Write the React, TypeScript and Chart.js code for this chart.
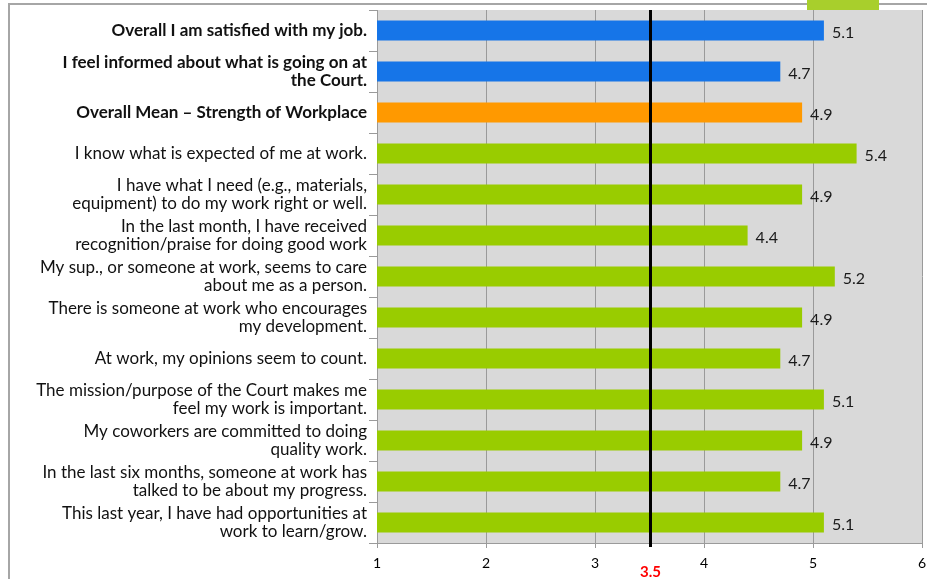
import React, { useEffect, useRef } from "react";
import { Chart, registerables } from "chart.js";

Chart.register(...registerables);

const categories: (string | string[])[] = [
  "Overall I am satisfied with my job.",
  ["I feel informed about what is going on at", "the Court."],
  "Overall Mean \u2013 Strength of Workplace",
  "I know what is expected of me at work.",
  ["I have what I need (e.g., materials,", "equipment) to do my work right or well."],
  ["In the last month, I have received", "recognition/praise for doing good work"],
  ["My sup., or someone at work, seems to care", "about me as a person."],
  ["There is someone at work who encourages", "my development."],
  "At work, my opinions seem to count.",
  ["The mission/purpose of the Court makes me", "feel my work is important."],
  ["My coworkers are committed to doing", "quality work."],
  ["In the last six months, someone at work has", "talked to be about my progress."],
  ["This last year, I have had opportunities at", "work to learn/grow."],
];

const values: number[] = [5.1, 4.7, 4.9, 5.4, 4.9, 4.4, 5.2, 4.9, 4.7, 5.1, 4.9, 4.7, 5.1];
const boldRows: number[] = [0, 1, 2];
const barColors: string[] = [
  "#1675e8", "#1675e8", "#ff9900",
  "#99cc00", "#99cc00", "#99cc00", "#99cc00", "#99cc00",
  "#99cc00", "#99cc00", "#99cc00", "#99cc00", "#99cc00",
];
const xMin = 1;
const xMax = 6;
const referenceValue = 3.5;
const referenceLabel = "3.5";

const FONT = "Lato, 'Open Sans', sans-serif";

export default function App() {
  const ref = useRef<HTMLCanvasElement | null>(null);

  useEffect(() => {
    if (!ref.current) return;

    const decor = {
      id: "decor",
      beforeDraw(chart: any) {
        const { ctx, chartArea } = chart;
        ctx.save();
        ctx.fillStyle = "#d9d9d9";
        ctx.fillRect(chartArea.left, chartArea.top, chartArea.right - chartArea.left, chartArea.bottom - chartArea.top);
        // outer frame
        ctx.strokeStyle = "#a6a6a6";
        ctx.lineWidth = 2;
        ctx.beginPath();
        ctx.moveTo(9, 579);
        ctx.lineTo(9, 4);
        ctx.lineTo(927, 4);
        ctx.stroke();
        ctx.fillStyle = "#a8cf2c";
        ctx.fillRect(807, 0, 72, 10);
        ctx.restore();
      },
      afterDatasetsDraw(chart: any) {
        const { ctx, chartArea } = chart;
        const xs = chart.scales.x;
        const meta = chart.getDatasetMeta(0);
        ctx.save();
        ctx.font = `16px ${FONT}`;
        ctx.fillStyle = "#1a1a1a";
        ctx.textAlign = "left";
        ctx.textBaseline = "middle";
        meta.data.forEach((bar: any, i: number) => {
          ctx.fillText(values[i].toFixed(1), bar.x + 8, bar.y + 2);
        });
        const px = Math.round(xs.getPixelForValue(referenceValue)) + 0.5;
        ctx.strokeStyle = "#000";
        ctx.lineWidth = 3;
        ctx.beginPath();
        ctx.moveTo(px, chartArea.top);
        ctx.lineTo(px, chartArea.bottom + 4);
        ctx.stroke();
        ctx.fillStyle = "#ff0000";
        ctx.font = `bold 15px ${FONT}`;
        ctx.textAlign = "center";
        ctx.textBaseline = "middle";
        ctx.fillText(referenceLabel, px, 572);
        ctx.restore();
      },
    };

    const chart = new Chart(ref.current, {
      type: "bar",
      data: {
        labels: categories as any,
        datasets: [
          {
            data: values,
            backgroundColor: barColors,
            borderWidth: 0,
            categoryPercentage: 1,
            barPercentage: 0.49,
          },
        ],
      },
      options: {
        indexAxis: "y",
        animation: false,
        responsive: false,
        devicePixelRatio: 1,
        layout: { padding: { top: 10, right: 5, left: 0, bottom: 0 } },
        plugins: {
          legend: { display: false },
          tooltip: { enabled: false },
          title: { display: false },
        },
        scales: {
          x: {
            min: xMin,
            max: xMax,
            afterFit(scale: any) {
              scale.height = 36;
              scale.paddingLeft = 0;
              scale.paddingRight = 0;
              scale.paddingTop = 0;
              scale.paddingBottom = 0;
            },
            ticks: {
              stepSize: 1,
              color: "#000",
              font: { family: FONT, size: 14 },
              padding: 7,
            },
            grid: {
              color: "#9a9a9a",
              lineWidth: 1,
              tickLength: 5,
              drawTicks: true,
            },
            border: { display: true, color: "#9a9a9a" },
          },
          y: {
            afterFit(scale: any) {
              scale.width = 377;
              scale.paddingTop = 0;
              scale.paddingBottom = 0;
              scale.paddingLeft = 0;
              scale.paddingRight = 0;
            },
            ticks: {
              color: "#111",
              padding: 2,
              font: (ctx: any) => ({
                family: FONT,
                size: 17,
                lineHeight: 1.05,
                weight: boldRows.includes(ctx.index) ? "bold" : "normal",
              }),
            },
            grid: {
              offset: true,
              drawOnChartArea: false,
              drawTicks: true,
              tickLength: 8,
              color: "#9a9a9a",
            },
            border: { display: true, color: "#9a9a9a" },
          },
        },
      },
      plugins: [decor],
    });

    return () => chart.destroy();
  }, []);

  return (
    <div style={{ position: "fixed", left: 0, top: 0, width: 927, height: 579, background: "#fff" }}>
      <canvas ref={ref} width={927} height={579} style={{ display: "block" }} />
    </div>
  );
}
